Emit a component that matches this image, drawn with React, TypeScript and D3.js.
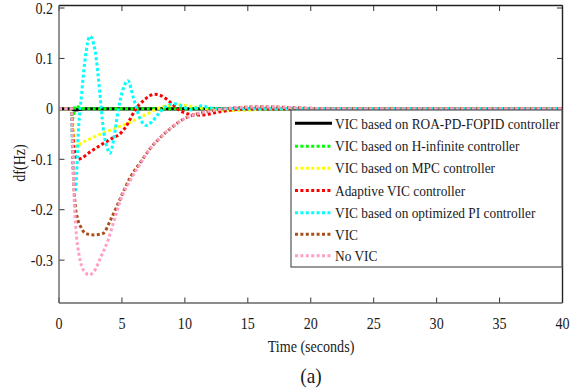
import React from "react";
import * as d3 from "d3";

const W = 582;
const H = 392;

const xTicks = [0, 5, 10, 15, 20, 25, 30, 35, 40];
const yTicks = [0.2, 0.1, 0, -0.1, -0.2, -0.3];
const yTickLabels = ["0.2", "0.1", "0", "-0.1", "-0.2", "-0.3"];

const legendLabels = [
  "VIC based on ROA-PD-FOPID controller",
  "VIC based on H-infinite controller",
  "VIC based on MPC controller",
  "Adaptive VIC controller",
  "VIC based on optimized PI controller",
  "VIC",
  "No VIC",
];
const seriesColors = ["#000000", "#00ff00", "#ffff00", "#ff0000", "#00ffff", "#a8501c", "#ff9fc8"];

// ROA-PD-FOPID
const tBlack = [0, 1, 1.2, 2, 40];
const vBlack = [0, 0, -0.002, 0, 0];
// H-infinite
const tGreen = [0, 1, 1.08, 1.18, 1.3, 1.6, 2.2, 40];
const vGreen = [0, 0, -0.02, -0.008, 0.006, 0.003, 0, 0];
// MPC
const tYellow = [0, 1, 1.15, 1.4, 1.7, 2.5, 3.5, 4.6, 5.5, 6.2, 7.0, 7.8, 8.6, 9.5, 10.5, 11.5, 13, 14.6, 16.5, 40];
const vYellow = [0, 0, -0.05, -0.075, -0.069, -0.059, -0.048, -0.037, -0.028, -0.02, -0.01, 0, 0.006, 0.008, 0.005, 0.001, -0.002, -0.003, 0, 0];
// Adaptive VIC
const tRed = [0, 1, 1.1, 1.3, 1.5, 1.75, 2.5, 3.3, 4.1, 4.9, 5.3, 5.7, 6.1, 6.7, 7.2, 7.6, 8.2, 8.9, 9.4, 10, 10.8, 11.5, 12.3, 13.5, 15, 40];
const vRed = [0, 0, -0.05, -0.09, -0.1, -0.098, -0.085, -0.072, -0.06, -0.048, -0.036, -0.018, 0, 0.016, 0.026, 0.029, 0.025, 0.012, 0, -0.008, -0.012, -0.012, -0.008, -0.003, 0, 0];
// Optimized PI
const tCyan = [0, 1, 1.05, 1.15, 1.28, 1.4, 1.5, 1.8, 2.06, 2.46, 2.86, 3.25, 3.5, 3.8, 4.05, 4.35, 4.7, 5.1, 5.48, 5.9, 6.4, 6.95, 7.4, 7.9, 8.5, 9.2, 9.9, 10.5, 11.3, 12, 13, 40];
const vCyan = [0, 0, -0.06, -0.13, -0.165, -0.13, -0.065, 0.03, 0.096, 0.144, 0.116, 0.03, -0.036, -0.075, -0.088, -0.06, -0.003, 0.04, 0.056, 0.023, -0.017, -0.033, -0.025, -0.01, 0.005, 0.01, 0.004, -0.002, 0.006, 0.002, 0, 0];
// VIC
const tBrown = [0, 1, 1.1, 1.25, 1.5, 1.75, 2.1, 2.8, 3.5, 4.1, 4.9, 5.7, 6.5, 7.2, 7.8, 8.8, 9.9, 11.3, 12.5, 14, 16, 18, 20, 23, 40];
const vBrown = [0, 0, -0.1, -0.18, -0.22, -0.235, -0.247, -0.25, -0.247, -0.22, -0.176, -0.134, -0.105, -0.08, -0.063, -0.04, -0.02, -0.008, -0.002, 0.002, 0.004, 0.003, 0.001, 0, 0];
// No VIC
const tPink = [0, 1, 1.1, 1.2, 1.35, 1.6, 2.0, 2.4, 2.8, 3.3, 3.9, 4.4, 4.9, 5.7, 6.5, 7.2, 7.8, 8.8, 9.9, 11.3, 12.5, 14, 16, 18, 20, 23, 40];
const vPink = [0, 0, -0.09, -0.174, -0.24, -0.29, -0.322, -0.329, -0.322, -0.295, -0.26, -0.22, -0.18, -0.14, -0.107, -0.08, -0.063, -0.04, -0.02, -0.008, -0.002, 0.002, 0.004, 0.003, 0.001, 0, 0];

const seriesT = [tBlack, tGreen, tYellow, tRed, tCyan, tBrown, tPink];
const seriesV = [vBlack, vGreen, vYellow, vRed, vCyan, vBrown, vPink];

const FONT = "Liberation Serif, Times New Roman, serif";

function T(props: { x: number; y: number; size: number; anchor?: string; sx?: number; children: React.ReactNode; fill?: string }) {
  const sx = props.sx ?? 0.88;
  return (
    <text
      transform={`translate(${props.x},${props.y}) scale(${sx},1)`}
      fontSize={props.size}
      textAnchor={props.anchor || "start"}
      fill={props.fill || "#1a1a1a"}
      fontFamily={FONT}
    >
      {props.children}
    </text>
  );
}

export default function App() {
  const left = 59, right = 562.5, top = 5.5, bottom = 303;
  const x = d3.scaleLinear().domain([0, 40]).range([left, right]);
  const y = d3.scaleLinear().domain([-0.385, 0.205]).range([bottom, top]);
  const line = d3
    .line<[number, number]>()
    .x((d) => x(d[0]))
    .y((d) => y(d[1]))
    .curve(d3.curveMonotoneX);

  const tickLen = 5.5;
  const lg = { x0: 291, y0: 110, x1: 562, y1: 267 };
  const legendY = [123.3, 146.2, 168.2, 190.5, 212.8, 234.3, 255.7];

  return (
    <svg width={W} height={H} style={{ position: "absolute", left: 0, top: 0, background: "#fff" }}>
      <defs>
        <clipPath id="plotClip">
          <rect x={left} y={top} width={right - left} height={bottom - top} />
        </clipPath>
      </defs>
      <rect x={0} y={0} width={W} height={H} fill="#fff" />
      {xTicks.map((t) => (
        <g key={"xt" + t}>
          <line x1={x(t)} x2={x(t)} y1={bottom} y2={bottom - tickLen} stroke="#333" strokeWidth={1} />
          <line x1={x(t)} x2={x(t)} y1={top} y2={top + tickLen} stroke="#333" strokeWidth={1} />
          <T x={x(t)} y={328.5} size={16} anchor="middle">{t}</T>
        </g>
      ))}
      {yTicks.map((t, i) => (
        <g key={"yt" + t}>
          <line x1={left} x2={left + tickLen} y1={y(t)} y2={y(t)} stroke="#333" strokeWidth={1} />
          <line x1={right} x2={right - tickLen} y1={y(t)} y2={y(t)} stroke="#333" strokeWidth={1} />
          <T x={53} y={y(t) + 5.5} size={16} anchor="end">{yTickLabels[i]}</T>
        </g>
      ))}
      <g clipPath="url(#plotClip)">
        {seriesT.map((ts, i) => {
          const pts = ts.map((t, j) => [t, seriesV[i][j]] as [number, number]);
          return (
            <path
              key={"s" + i}
              d={line(pts) || ""}
              fill="none"
              stroke={seriesColors[i]}
              strokeWidth={i === 0 ? 3.2 : 3}
              strokeDasharray={i === 0 ? undefined : "3 2.4"}
            />
          );
        })}
      </g>
      <line x1={left} x2={right} y1={top} y2={top} stroke="#222" strokeWidth={1.4} />
      <line x1={right} x2={right} y1={top} y2={bottom} stroke="#222" strokeWidth={1.4} />
      <line x1={left} x2={left} y1={top} y2={bottom} stroke="#666" strokeWidth={1.4} />
      <line x1={left} x2={right} y1={bottom} y2={bottom} stroke="#666" strokeWidth={1.4} />
      <rect x={lg.x0} y={lg.y0} width={lg.x1 - lg.x0} height={lg.y1 - lg.y0} fill="#fff" stroke="#555" strokeWidth={1.2} />
      {legendLabels.map((lab, i) => (
        <g key={"lg" + i}>
          <line
            x1={295}
            x2={332}
            y1={legendY[i]}
            y2={legendY[i]}
            stroke={seriesColors[i]}
            strokeWidth={3}
            strokeDasharray={i === 0 ? undefined : "3 2.4"}
          />
          <T x={335} y={legendY[i] + 5.2} size={15} sx={0.89}>{lab}</T>
        </g>
      ))}
      <T x={311} y={351.5} size={16} anchor="middle">Time (seconds)</T>
      <text transform="translate(25,163) rotate(-90) scale(0.88,1)" fontSize={16} textAnchor="middle" fill="#1a1a1a" fontFamily={FONT}>df(Hz)</text>
      <T x={311} y={382.5} size={21} anchor="middle" sx={0.92}>(a)</T>
    </svg>
  );
}
